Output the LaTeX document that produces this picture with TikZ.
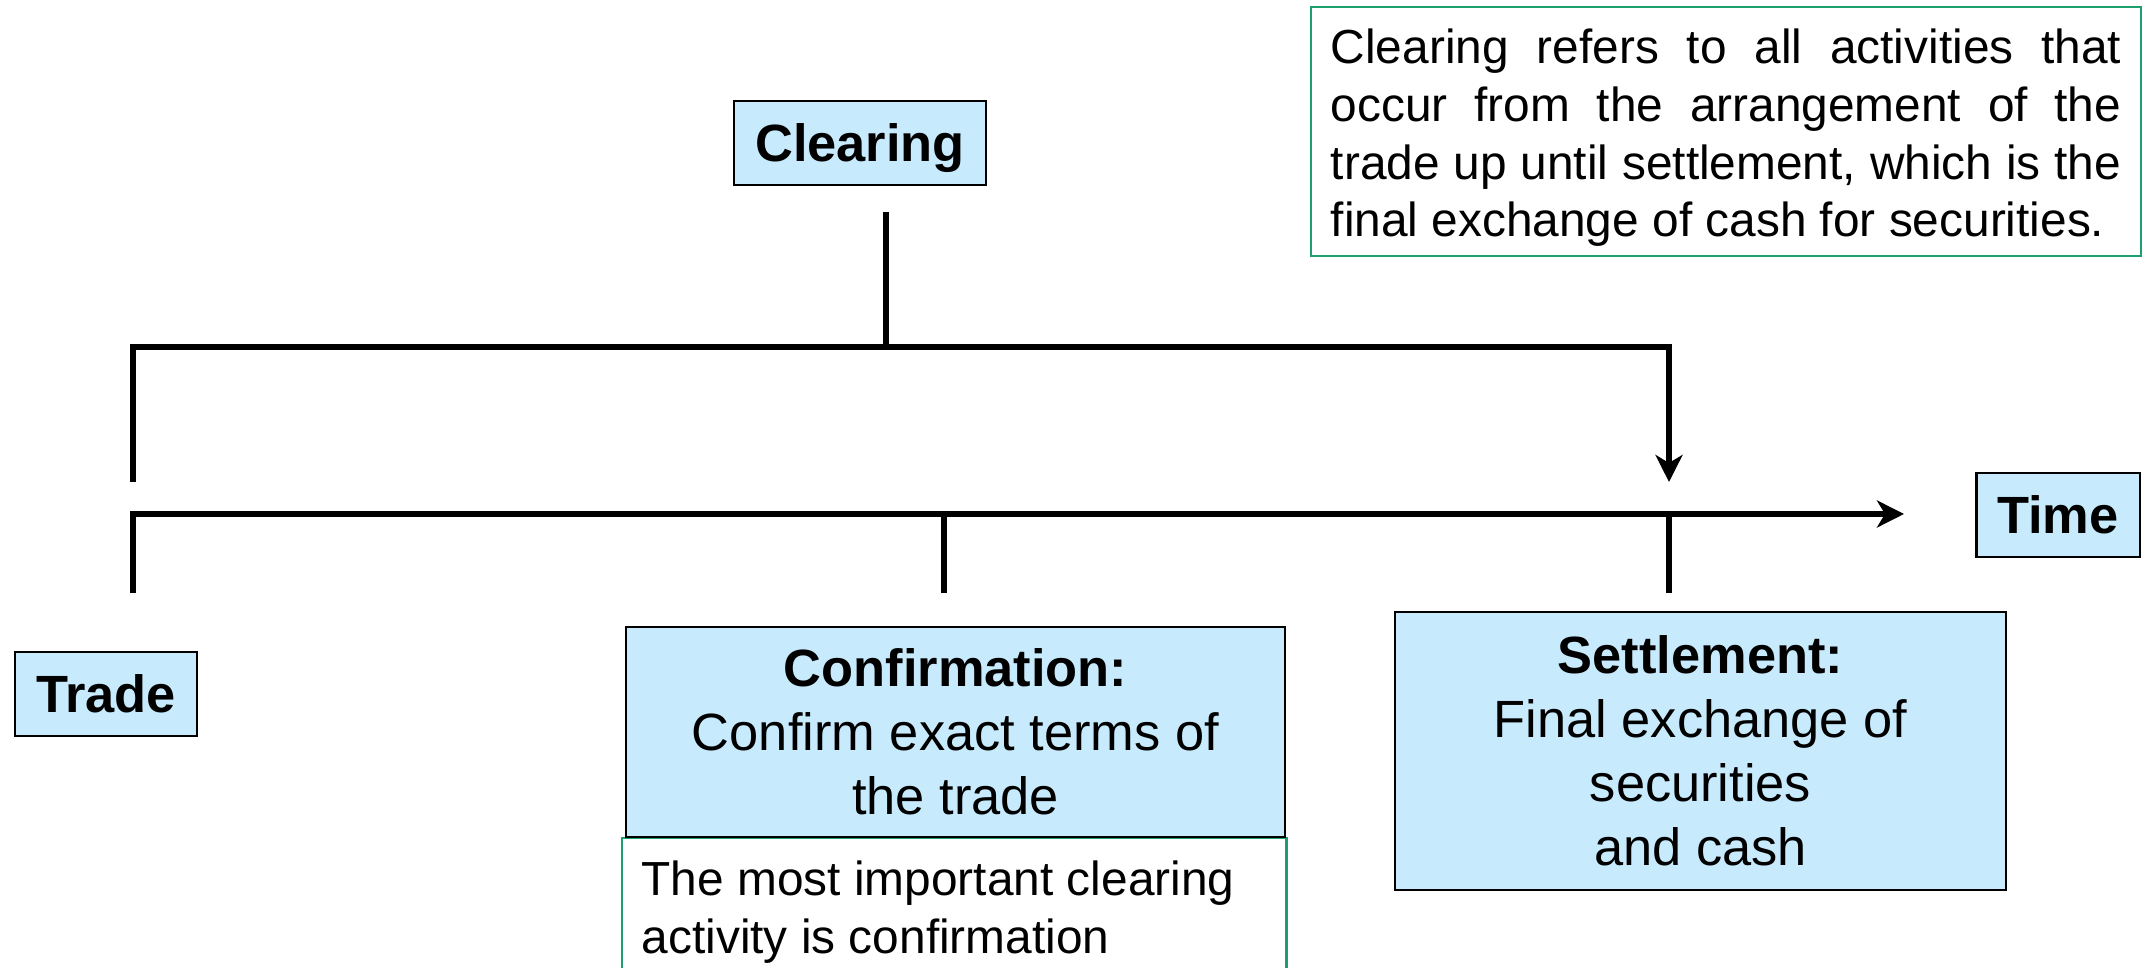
\documentclass[tikz,border=0pt]{standalone}
\usepackage{fontspec}
\setmainfont{Liberation Sans}
\usetikzlibrary{arrows.meta}
\definecolor{boxblue}{RGB}{199,235,252}
\definecolor{notegreen}{RGB}{30,160,110}

\begin{document}
\begin{tikzpicture}[x=0.01cm, y=-0.01cm,
  bluebox/.style={draw=black, line width=0.6pt, fill=boxblue, inner sep=0pt, align=center,
                  font=\fontsize{14.9}{18.2}\selectfont},
  boldlabel/.style={bluebox, font=\fontsize{14.9}{18.2}\selectfont\bfseries},
  notebox/.style={draw=notegreen, line width=0.7pt, inner sep=0pt},
  notetext/.style={font=\fontsize{13.6}{16.4}\selectfont},
  rule/.style={line width=1.6pt},
  tip/.style={rule, -{Stealth[length=0.27cm, width=0.27cm, inset=0.08cm]}},
]
\clip (0,0) rectangle (2148,968);

% labels of the phases
\node[boldlabel, minimum width=2.52cm, minimum height=0.84cm, text depth=0pt] (clearing) at (860,143) {Clearing};
\node[boldlabel, minimum width=1.82cm, minimum height=0.84cm] (trade) at (106,694) {Trade};
\node[boldlabel, minimum width=1.63cm, minimum height=0.84cm] (time) at (2058,515) {Time};

% explanatory note, upper right
\node[notebox, minimum width=8.3cm, minimum height=2.49cm] (defnote) at (1726,131.5) {};
\node[notetext, text width=7.9cm, inner sep=0pt, align=justify] (deftext) at (1726,138)
  {Clearing refers to all activities that\linebreak
   occur from the arrangement of the\linebreak
   trade up until settlement, which is the\linebreak
   final exchange of cash for securities.};

% note under the confirmation box (runs past the lower edge)
\node[notebox, anchor=north west, minimum width=6.64cm, minimum height=1.6cm] (impnote) at (621,837) {};
\node[notetext, anchor=north west, align=left, inner sep=0pt] (imptext) at (641,860)
  {The most important clearing\\activity is confirmation};

% phase boxes
\node[bluebox, minimum width=6.59cm, minimum height=2.10cm] (confirm) at (955.5,732)
  {\textbf{Confirmation:}\\Confirm exact terms of\\the trade};
\node[bluebox, minimum width=6.11cm, minimum height=2.78cm] (settle) at (1700.5,751)
  {\textbf{Settlement:}\\Final exchange of\\securities\\and cash};

% bracket spanning the clearing period
\coordinate (stemtop) at (886,212);
\coordinate (bracketM) at (886,347);
\coordinate (bracketL) at (133,347);
\coordinate (bracketR) at (1669,347);
\coordinate (legL) at (133,482);
\coordinate (legR) at (1669,482);
\draw[rule] (stemtop) -- (bracketM);
\draw[tip] (legL) -- (bracketL) -- (bracketR) -- (legR);

% time axis with its ticks
\coordinate (tickL) at (133,593);
\coordinate (axisL) at (133,514);
\coordinate (axisEnd) at (1904,514);
\coordinate (tickMtop) at (944,514);
\coordinate (tickMbot) at (944,593);
\coordinate (tickRtop) at (1669,514);
\coordinate (tickRbot) at (1669,593);
\draw[tip] (tickL) -- (axisL) -- (axisEnd);
\draw[rule] (tickMtop) -- (tickMbot);
\draw[rule] (tickRtop) -- (tickRbot);
\end{tikzpicture}
\end{document}
